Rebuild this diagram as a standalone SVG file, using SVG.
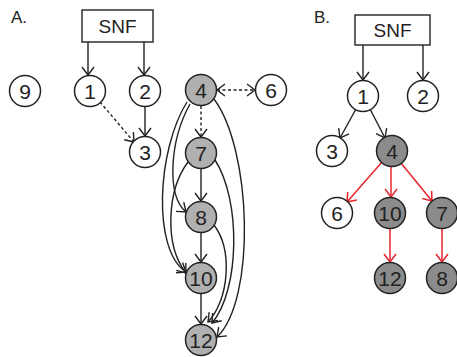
<svg xmlns="http://www.w3.org/2000/svg" width="457" height="357" viewBox="0 0 457 357">
  <style>
    text { font-family: "Liberation Sans", Arial, sans-serif; fill: #222; }
    .lbl { font-size: 17px; }
    .num { font-size: 21px; text-anchor: middle; }
    .snf { font-size: 19px; text-anchor: middle; }
    .box { fill: #fff; stroke: #222; stroke-width: 1.4; }
    .n { stroke: #222; stroke-width: 1.5; }
    .w { fill: #fff; }
    .ga { fill: #b0b0b0; }
    .gb { fill: #8b8b8b; }
    .e { fill: none; stroke: #222; stroke-width: 1.4; }
    .d { stroke-dasharray: 3 2.5; }
    .r { fill: none; stroke: #e8262b; stroke-width: 1.5; }
  </style>
  <defs>
    <marker id="ah" markerUnits="userSpaceOnUse" markerWidth="14" markerHeight="14" refX="10" refY="7" orient="auto-start-reverse" viewBox="0 0 14 14">
      <path d="M2,1 L10,7 L2,13" fill="none" stroke="#222" stroke-width="1.4"/>
    </marker>
    <marker id="ahr" markerUnits="userSpaceOnUse" markerWidth="14" markerHeight="14" refX="10" refY="7" orient="auto" viewBox="0 0 14 14">
      <path d="M2,1 L10,7 L2,13" fill="none" stroke="#e8262b" stroke-width="1.5"/>
    </marker>
  </defs>

  <text class="lbl" x="11" y="23">A.</text>
  <text class="lbl" x="314" y="23">B.</text>

  <!-- connectors -->
  <g id="connectors">
    <!-- panel A -->
    <path class="e" d="M88,42 L88,75" marker-end="url(#ah)"/>
    <path class="e" d="M144,42 L144,75" marker-end="url(#ah)"/>
    <path class="e d" d="M100,102 L134,142" marker-end="url(#ah)"/>
    <path class="e" d="M145,106 L145,136" marker-end="url(#ah)"/>
    <path class="e d" d="M217,90 L255,90" marker-start="url(#ah)" marker-end="url(#ah)"/>
    <path class="e d" d="M201,106 L201,137" marker-end="url(#ah)"/>
    <path class="e" d="M201,169 L201,201" marker-end="url(#ah)"/>
    <path class="e" d="M201,233 L201,262" marker-end="url(#ah)"/>
    <path class="e" d="M201,294 L201,324" marker-end="url(#ah)"/>
    <path class="e" d="M190,104 C170,140 166,195 186,212" marker-end="url(#ah)"/>
    <path class="e" d="M187,102 C157,150 152,250 186,272" marker-end="url(#ah)"/>
    <path class="e" d="M188,162 C167,190 164,245 186,273" marker-end="url(#ah)"/>
    <path class="e" d="M214,99 C252,150 256,300 217,337" marker-end="url(#ah)"/>
    <path class="e" d="M215,160 C241,200 240,290 212,323" marker-end="url(#ah)"/>
    <path class="e" d="M214,225 C233,250 229,300 208,322" marker-end="url(#ah)"/>
    <!-- panel B -->
    <path class="e" d="M363,45 L363,80" marker-end="url(#ah)"/>
    <path class="e" d="M423,45 L423,80" marker-end="url(#ah)"/>
    <path class="e" d="M356,109 L340,138" marker-end="url(#ah)"/>
    <path class="e" d="M370,109 L385,138" marker-end="url(#ah)"/>
    <path class="r" d="M382,162 L347,202" marker-end="url(#ahr)"/>
    <path class="r" d="M391,166 L391,197" marker-end="url(#ahr)"/>
    <path class="r" d="M401,163 L432,201" marker-end="url(#ahr)"/>
    <path class="r" d="M390,229 L390,262" marker-end="url(#ahr)"/>
    <path class="r" d="M442,229 L442,262" marker-end="url(#ahr)"/>
  </g>

  <!-- panel A nodes -->
  <g id="a-snf"><rect class="box" x="82" y="10" width="71" height="32"/><text class="snf" x="117.5" y="33">SNF</text></g>
  <g id="a-9"><circle class="n w" cx="25" cy="91" r="15.5"/><text class="num" x="25" y="98.5">9</text></g>
  <g id="a-1"><circle class="n w" cx="90" cy="91" r="15.5"/><text class="num" x="90" y="98.5">1</text></g>
  <g id="a-2"><circle class="n w" cx="145" cy="91" r="15.5"/><text class="num" x="145" y="98.5">2</text></g>
  <g id="a-3"><circle class="n w" cx="145" cy="152" r="15.5"/><text class="num" x="145" y="159.5">3</text></g>
  <g id="a-6"><circle class="n w" cx="271" cy="90" r="15.5"/><text class="num" x="271" y="97.5">6</text></g>
  <g id="a-4"><circle class="n ga" cx="201" cy="90" r="15.5"/><text class="num" x="201" y="97.5">4</text></g>
  <g id="a-7"><circle class="n ga" cx="201" cy="153" r="15.5"/><text class="num" x="201" y="160.5">7</text></g>
  <g id="a-8"><circle class="n ga" cx="201" cy="217" r="15.5"/><text class="num" x="201" y="224.5">8</text></g>
  <g id="a-10"><circle class="n ga" cx="201" cy="278" r="15.5"/><text class="num" x="201" y="285.5">10</text></g>
  <g id="a-12"><circle class="n ga" cx="201" cy="340" r="15.5"/><text class="num" x="201" y="347.5">12</text></g>

  <!-- panel B nodes -->
  <g id="b-snf"><rect class="box" x="355" y="15" width="75" height="30"/><text class="snf" x="392.5" y="37">SNF</text></g>
  <g id="b-1"><circle class="n w" cx="363" cy="96" r="15.5"/><text class="num" x="363" y="103.5">1</text></g>
  <g id="b-2"><circle class="n w" cx="423" cy="96" r="15.5"/><text class="num" x="423" y="103.5">2</text></g>
  <g id="b-3"><circle class="n w" cx="332" cy="151" r="15.5"/><text class="num" x="332" y="158.5">3</text></g>
  <g id="b-4"><circle class="n gb" cx="392" cy="151" r="15.5"/><text class="num" x="392" y="158.5">4</text></g>
  <g id="b-6"><circle class="n w" cx="337" cy="213" r="15.5"/><text class="num" x="337" y="220.5">6</text></g>
  <g id="b-10"><circle class="n gb" cx="390" cy="213" r="15.5"/><text class="num" x="390" y="220.5">10</text></g>
  <g id="b-7"><circle class="n gb" cx="442" cy="213" r="15.5"/><text class="num" x="442" y="220.5">7</text></g>
  <g id="b-12"><circle class="n gb" cx="390" cy="278" r="15.5"/><text class="num" x="390" y="285.5">12</text></g>
  <g id="b-8"><circle class="n gb" cx="442" cy="278" r="15.5"/><text class="num" x="442" y="285.5">8</text></g>
</svg>
